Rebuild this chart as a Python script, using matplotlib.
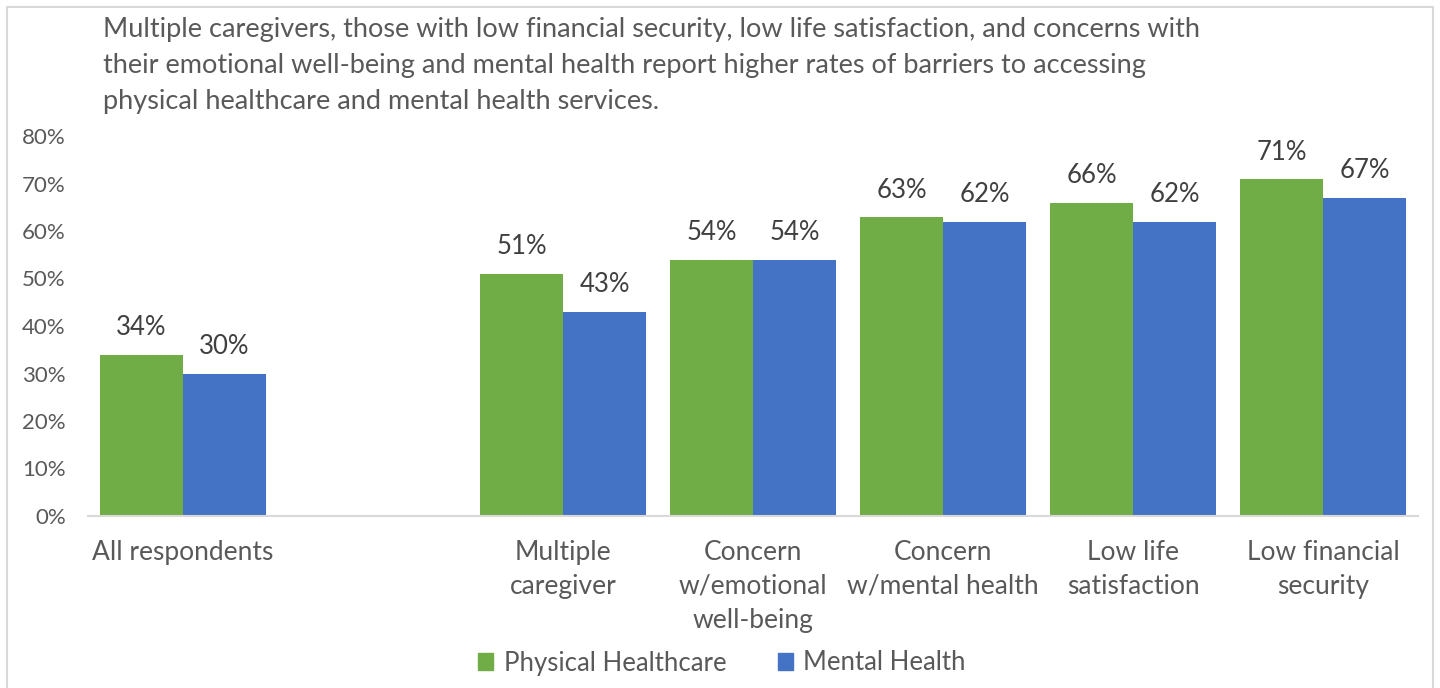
import matplotlib
matplotlib.use('Agg')
import matplotlib.pyplot as plt
from matplotlib.patches import Rectangle
import numpy as np

plt.rcParams['font.family'] = ['Lato', 'DejaVu Sans']

# groups; the empty slot keeps the space after "All respondents"
categories = ['All respondents', '', 'Multiple\ncaregiver', 'Concern\nw/emotional\nwell-being',
              'Concern\nw/mental health', 'Low life\nsatisfaction', 'Low financial\nsecurity']
physical = [34, None, 51, 54, 63, 66, 71]
mental = [30, None, 43, 54, 62, 62, 67]
yticks = [0, 10, 20, 30, 40, 50, 60, 70, 80]

title = ('Multiple caregivers, those with low financial security, low life satisfaction, and concerns with\n'
         'their emotional well-being and mental health report higher rates of barriers to accessing\n'
         'physical healthcare and mental health services.')

green = '#70ad47'
blue = '#4472c4'
txt = '#595959'

fig = plt.figure(figsize=(14.4, 6.88), dpi=100)
fig.patches.append(Rectangle((0.005, -0.01), 0.99, 1.0, transform=fig.transFigure,
                             fill=False, edgecolor='#d9d9d9', linewidth=1.5))
ax = fig.add_axes([88 / 1440, 1 - 516 / 688, 1330 / 1440, 380 / 688])

x = np.arange(len(categories))
w = 0.437
for i in range(len(categories)):
    if physical[i] is None:
        continue
    ax.bar(x[i] - w / 2, physical[i], w, color=green)
    ax.bar(x[i] + w / 2, mental[i], w, color=blue)
    ax.text(x[i] - w / 2, physical[i] + 3.0, f'{physical[i]}%', ha='center', va='bottom',
            fontsize=18.5, color='#404040')
    ax.text(x[i] + w / 2, mental[i] + 3.0, f'{mental[i]}%', ha='center', va='bottom',
            fontsize=18.5, color='#404040')

ax.set_xlim(-0.5, len(categories) - 0.5)
ax.set_ylim(0, 80)
ax.set_yticks(yticks)
ax.set_yticklabels([f'{t}%' for t in yticks], fontsize=16, color=txt)
ax.set_xticks(x)
ax.set_xticklabels(categories, fontsize=19, color=txt, linespacing=1.45, va='top')
ax.tick_params(axis='both', length=0)
ax.tick_params(axis='x', pad=17)
ax.tick_params(axis='y', pad=16)
for s in ['top', 'right', 'left']:
    ax.spines[s].set_visible(False)
ax.spines['bottom'].set_color('#d9d9d9')
ax.spines['bottom'].set_linewidth(1.5)

fig.text(103 / 1440, 1 - 17 / 688, title, ha='left', va='top', fontsize=19.5,
         color=txt, linespacing=1.55)

handles = [Rectangle((0, 0), 1, 1, color=green), Rectangle((0, 0), 1, 1, color=blue)]
fig.legend(handles, ['Physical Healthcare', 'Mental Health'], loc='center',
           bbox_to_anchor=(722 / 1440, 1 - 663 / 688), ncol=2, frameon=False,
           fontsize=18.5, labelcolor=txt, handlelength=0.6, handleheight=0.6,
           handletextpad=0.4, columnspacing=2.0)

fig.savefig('out.png', dpi=100)
